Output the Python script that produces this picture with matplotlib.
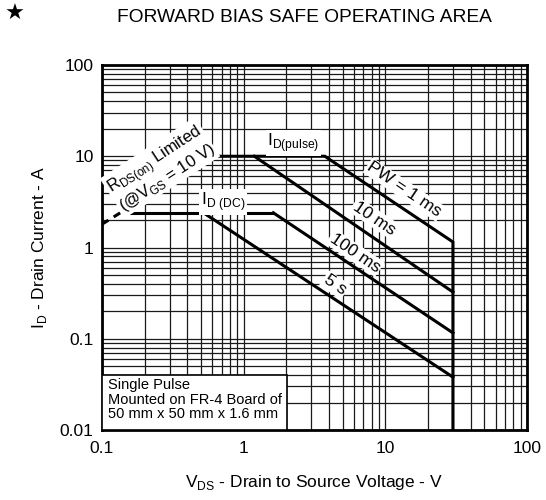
import matplotlib
matplotlib.use("Agg")
import matplotlib.pyplot as plt
from matplotlib.ticker import LogLocator, FixedLocator, FixedFormatter, NullFormatter
from matplotlib.patches import Rectangle

plt.rcParams['font.family'] = ['Liberation Sans', 'DejaVu Sans']
plt.rcParams['mathtext.fontset'] = 'custom'
plt.rcParams['mathtext.rm'] = 'Liberation Sans'

# curves (V, A)
rds_v = [0.1, 0.59]
rds_i = [1.8, 10]
pw1ms_v = [0.59, 3.74, 30, 30]
pw1ms_i = [10, 10, 1.15, 0.01]
pw10ms_v = [1.19, 30]
pw10ms_i = [10, 0.325]
dc_v = [0.146, 1.62]
dc_i = [2.4, 2.4]
pw100ms_v = [1.62, 30]
pw100ms_i = [2.4, 0.116]
pw5s_v = [0.52, 30]
pw5s_i = [2.4, 0.038]

xticks = [0.1, 1, 10, 100]
xticklabels = ["0.1", "1", "10", "100"]
yticks = [0.01, 0.1, 1, 10, 100]
yticklabels = ["0.01", "0.1", "1", "10", "100"]

fig = plt.figure(figsize=(5.46, 5.0), dpi=100)
ax = fig.add_axes([0.1868, 0.14, 0.7784, 0.73])
ax.set_xscale("log")
ax.set_yscale("log")
ax.set_xlim(0.1, 100)
ax.set_ylim(0.01, 100)

ax.xaxis.set_major_locator(FixedLocator(xticks))
ax.xaxis.set_major_formatter(FixedFormatter(xticklabels))
ax.yaxis.set_major_locator(FixedLocator(yticks))
ax.yaxis.set_major_formatter(FixedFormatter(yticklabels))
ax.xaxis.set_minor_locator(LogLocator(base=10, subs=range(2, 10)))
ax.yaxis.set_minor_locator(LogLocator(base=10, subs=range(2, 10)))
ax.xaxis.set_minor_formatter(NullFormatter())
ax.yaxis.set_minor_formatter(NullFormatter())
ax.tick_params(which="both", length=0)
ax.tick_params(axis="x", pad=8, labelsize=12.5)
ax.tick_params(axis="y", pad=6, labelsize=12.5)
ax.grid(which="both", color="0.1", lw=0.9)
ax.set_axisbelow(True)
for s in ax.spines.values():
    s.set_linewidth(2)

lw = 2.2
ax.plot(rds_v, rds_i, color="black", lw=lw, ls=(0, (2.5, 2)), zorder=3)
for v, i in [(pw1ms_v, pw1ms_i), (pw10ms_v, pw10ms_i), (dc_v, dc_i),
             (pw100ms_v, pw100ms_i), (pw5s_v, pw5s_i)]:
    ax.plot(v, i, color="black", lw=lw, solid_joinstyle="miter", zorder=3)

wb = dict(facecolor="white", edgecolor="none", pad=1.0)
ax.text(13.6, 4.3, "PW = 1 ms", rotation=-34, ha="center", va="center", fontsize=12.5, bbox=wb, zorder=4)
ax.text(8.35, 2.10, "10 ms", rotation=-34, ha="center", va="center", fontsize=12.5, bbox=wb, zorder=4)
ax.text(6.11, 0.871, "100 ms", rotation=-34, ha="center", va="center", fontsize=12.5, bbox=wb, zorder=4)
ax.text(4.40, 0.388, "5 s", rotation=-34, ha="center", va="center", fontsize=12.5, bbox=wb, zorder=4)
ax.text(2.25, 13.97, r"I$_{\mathregular{D(pulse)}}$", ha="center", va="center", fontsize=12.5, bbox=wb, zorder=4)
ax.text(0.714, 3.15, r"I$_{\mathregular{D\ (DC)}}$", ha="center", va="center", fontsize=12.5, bbox=wb, zorder=4)
ax.text(0.26, 7.3, "R$_{\\mathregular{DS(on)}}$ Limited\n(@V$_{\\mathregular{GS}}$ = 10 V)",
        rotation=33, ha="center", va="center", multialignment="center",
        fontsize=12, linespacing=0.95, bbox=wb, zorder=4)

ax.add_patch(Rectangle((0, 0), 0.435, 0.151, transform=ax.transAxes,
                       facecolor="white", edgecolor="black", lw=1.2, zorder=4))
ax.text(0.014, 0.142, "Single Pulse\nMounted on FR-4 Board of\n50 mm x 50 mm x 1.6 mm",
        transform=ax.transAxes, ha="left", va="top", fontsize=10.5, linespacing=1.05, zorder=5)

ax.set_xlabel(r"V$_{\mathregular{DS}}$ - Drain to Source Voltage - V", fontsize=12.5, labelpad=12)
ax.set_ylabel(r"I$_{\mathregular{D}}$ - Drain Current - A", fontsize=12.5, labelpad=8)

fig.text(304 / 546, 1 - 18 / 500, "FORWARD BIAS SAFE OPERATING AREA", ha="center", va="center", fontsize=13.8)
fig.text(15 / 546, 1 - 14 / 500, "\u2605", ha="center", va="center", fontsize=16, family=["DejaVu Sans"])

fig.savefig("out.png", dpi=100)
